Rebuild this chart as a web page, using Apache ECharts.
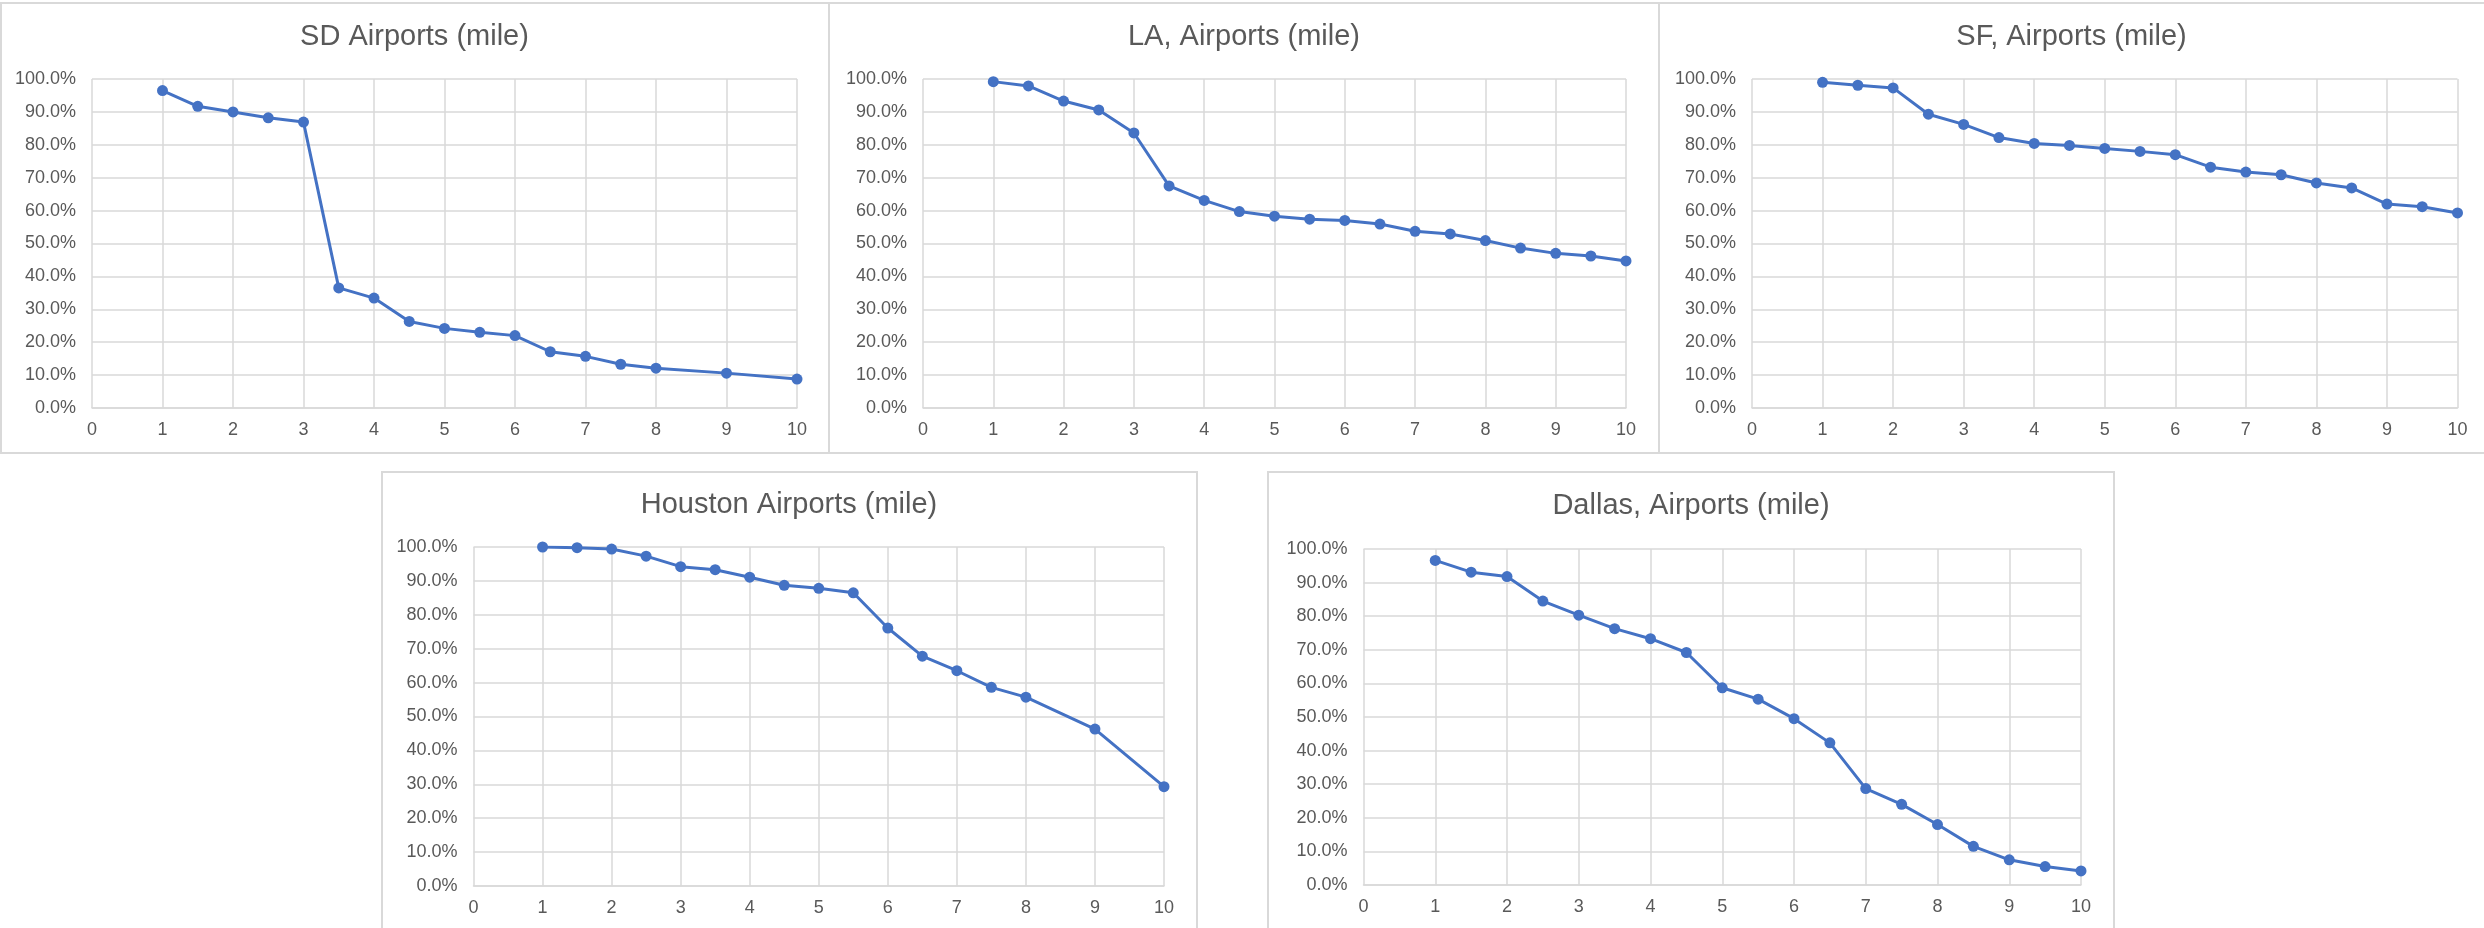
<!DOCTYPE html>
<html>
<head>
<meta charset="utf-8">
<script src="https://cdn.jsdelivr.net/npm/echarts@6/dist/echarts.min.js"></script>
<style>
html,body{margin:0;padding:0;background:#fff;}
#chart{width:2484px;height:928px;}
</style>
</head>
<body>
<div id="chart"></div>
<script>
// ---- Data ----
const titles = ["SD Airports (mile)", "LA, Airports (mile)", "SF, Airports (mile)", "Houston Airports (mile)", "Dallas, Airports (mile)"];

const sdMiles = [1, 1.5, 2, 2.5, 3, 3.5, 4, 4.5, 5, 5.5, 6, 6.5, 7, 7.5, 8, 9, 10];
const sdShare = [0.965, 0.917, 0.900, 0.882, 0.869, 0.365, 0.334, 0.263, 0.242, 0.230, 0.220, 0.171, 0.157, 0.133, 0.121, 0.106, 0.088];

const laMiles = [1, 1.5, 2, 2.5, 3, 3.5, 4, 4.5, 5, 5.5, 6, 6.5, 7, 7.5, 8, 8.5, 9, 9.5, 10];
const laShare = [0.992, 0.979, 0.933, 0.906, 0.836, 0.675, 0.631, 0.597, 0.583, 0.574, 0.570, 0.559, 0.537, 0.529, 0.509, 0.486, 0.470, 0.462, 0.447];

const sfMiles = [1, 1.5, 2, 2.5, 3, 3.5, 4, 4.5, 5, 5.5, 6, 6.5, 7, 7.5, 8, 8.5, 9, 9.5, 10];
const sfShare = [0.990, 0.981, 0.973, 0.893, 0.862, 0.822, 0.804, 0.798, 0.789, 0.780, 0.770, 0.732, 0.717, 0.709, 0.684, 0.669, 0.620, 0.612, 0.593];

const houMiles = [1, 1.5, 2, 2.5, 3, 3.5, 4, 4.5, 5, 5.5, 6, 6.5, 7, 7.5, 8, 9, 10];
const houShare = [1.000, 0.998, 0.994, 0.973, 0.942, 0.933, 0.911, 0.887, 0.878, 0.865, 0.761, 0.678, 0.635, 0.586, 0.557, 0.463, 0.293];

const dalMiles = [1, 1.5, 2, 2.5, 3, 3.5, 4, 4.5, 5, 5.5, 6, 6.5, 7, 7.5, 8, 8.5, 9, 9.5, 10];
const dalShare = [0.966, 0.931, 0.918, 0.845, 0.803, 0.763, 0.733, 0.692, 0.587, 0.553, 0.495, 0.423, 0.287, 0.240, 0.180, 0.115, 0.075, 0.055, 0.042];

const xTicks = [0, 1, 2, 3, 4, 5, 6, 7, 8, 9, 10];
const yTicks = [0, 0.1, 0.2, 0.3, 0.4, 0.5, 0.6, 0.7, 0.8, 0.9, 1.0];

// ---- Layout ----
const FONT = "'Liberation Sans', Arial, sans-serif";
const TEXT = '#595959';
const GRIDC = '#d9d9d9';
const BLUE = '#4472C4';
const TITLE_SIZE = 29;
const LABEL_SIZE = 18;

const panels = [
  {x: 1, y: 3, w: 828, h: 450, tx: 414.5, ty: 38, grid: {left: 92, top: 79, width: 705, height: 329}},
  {x: 829, y: 3, w: 830, h: 450, tx: 1244, ty: 38, grid: {left: 923, top: 79, width: 703, height: 329}},
  {x: 1659, y: 3, w: 830, h: 450, tx: 2071.5, ty: 38, grid: {left: 1752, top: 79, width: 705.5, height: 329}},
  {x: 382, y: 472, w: 815, h: 470, tx: 789, ty: 506, grid: {left: 473.5, top: 547, width: 690.5, height: 339}},
  {x: 1268, y: 472, w: 846, h: 470, tx: 1691, ty: 507, grid: {left: 1363.5, top: 549, width: 717.5, height: 336}}
];
const seriesData = [[sdMiles, sdShare], [laMiles, laShare], [sfMiles, sfShare], [houMiles, houShare], [dalMiles, dalShare]];

const option = {
  animation: false,
  backgroundColor: '#fff',
  title: [], grid: [], xAxis: [], yAxis: [], series: [],
  graphic: []
};

panels.forEach((p, i) => {
  option.graphic.push({
    type: 'rect', silent: true, z: -1,
    shape: {x: p.x, y: p.y, width: p.w, height: p.h},
    style: {fill: '#fff', stroke: GRIDC, lineWidth: 2}
  });
  option.title.push({
    text: titles[i], left: p.tx, top: p.ty - TITLE_SIZE * 0.55, textAlign: 'center', padding: 0,
    textStyle: {fontFamily: FONT, fontSize: TITLE_SIZE, fontWeight: 'normal', color: TEXT}
  });
  option.grid.push(Object.assign({containLabel: false}, p.grid));
  option.xAxis.push({
    type: 'value', gridIndex: i, min: xTicks[0], max: xTicks[xTicks.length - 1], interval: 1,
    axisLine: {show: true, lineStyle: {color: GRIDC, width: 1.5}},
    axisTick: {show: false},
    axisLabel: {color: TEXT, fontFamily: FONT, fontSize: LABEL_SIZE, margin: 13},
    splitLine: {show: true, lineStyle: {color: GRIDC, width: 1.5}}
  });
  option.yAxis.push({
    type: 'value', gridIndex: i, min: yTicks[0], max: yTicks[yTicks.length - 1], interval: 0.1,
    axisLine: {show: false}, axisTick: {show: false},
    axisLabel: {color: TEXT, fontFamily: FONT, fontSize: LABEL_SIZE, margin: 16,
      formatter: v => (v * 100).toFixed(1) + '%'},
    splitLine: {show: true, lineStyle: {color: GRIDC, width: 1.5}}
  });
  const [xs, ys] = seriesData[i];
  option.series.push({
    type: 'line', xAxisIndex: i, yAxisIndex: i,
    data: xs.map((x, k) => [x, ys[k]]),
    symbol: 'circle', symbolSize: 11,
    lineStyle: {color: BLUE, width: 3},
    itemStyle: {color: BLUE},
    z: 5
  });
});

const chart = echarts.init(document.getElementById('chart'), null, {renderer: 'canvas'});
chart.setOption(option);
</script>
</body>
</html>
